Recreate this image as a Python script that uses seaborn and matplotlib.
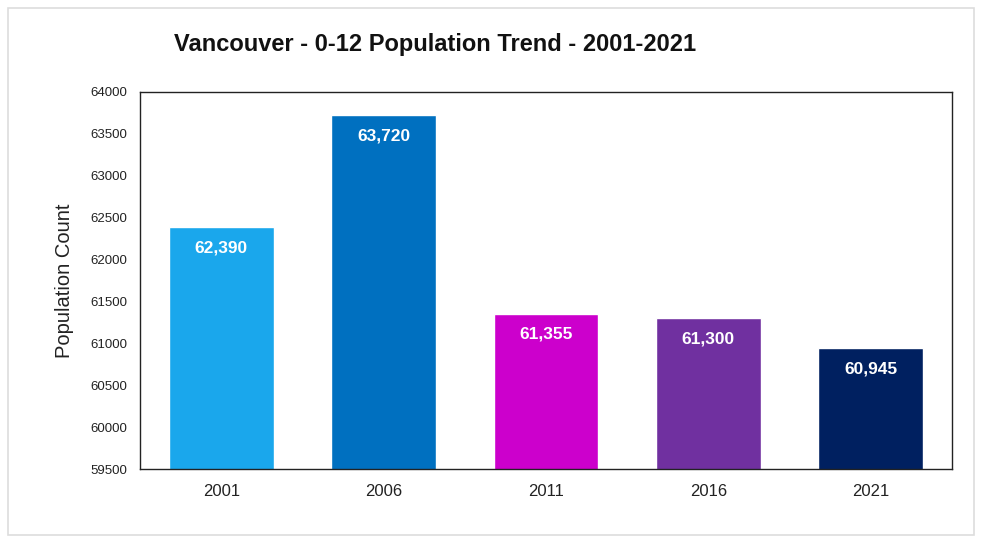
import matplotlib
matplotlib.use("Agg")
import matplotlib.pyplot as plt
import matplotlib.patches as mpatches
import seaborn as sns
import pandas as pd

# Census years and 0-12 population counts for Vancouver
years = ["2001", "2006", "2011", "2016", "2021"]
population = [62390, 63720, 61355, 61300, 60945]
bar_colors = ["#1AA7EC", "#0070C0", "#CC00CC", "#7030A0", "#002060"]
y_ticks = [59500, 60000, 60500, 61000, 61500, 62000, 62500, 63000, 63500, 64000]

sns.set_theme(style="white")
plt.rcParams["font.family"] = ["Liberation Sans", "DejaVu Sans"]

df = pd.DataFrame({"year": years, "population": population})

fig = plt.figure(figsize=(9.82, 5.41), dpi=100)
ax = fig.add_axes([140 / 982, 1 - 469 / 541, 812 / 982, 377 / 541])

sns.barplot(data=df, x="year", y="population", hue="year",
            palette=bar_colors, legend=False, width=0.645,
            saturation=1, ax=ax)

ax.set_ylim(y_ticks[0], y_ticks[-1])
ax.set_xlim(-0.5, 4.5)
ax.set_yticks(y_ticks)
ax.set_yticklabels([str(t) for t in y_ticks], fontsize=9.5)
ax.tick_params(axis="x", labelsize=12, length=0, pad=11, colors="#222222")
ax.tick_params(axis="y", length=0, pad=9, colors="#222222")
ax.set_xlabel("")
ax.set_ylabel("Population Count", fontsize=14.5, labelpad=12, color="#222222")

for spine in ax.spines.values():
    spine.set_visible(True)
    spine.set_color("#222222")
    spine.set_linewidth(1.0)

# value labels inside the top of each bar
for patch, val in zip(ax.patches, population):
    ax.annotate(f"{val:,}", (patch.get_x() + patch.get_width() / 2, val),
                xytext=(0, -15), textcoords="offset points",
                ha="center", va="center", color="white",
                fontsize=12.5, fontweight="bold")

fig.text(435 / 982, 1 - 45 / 541, "Vancouver - 0-12 Population Trend - 2001-2021",
         ha="center", va="center", fontsize=17, fontweight="bold", color="#111111")

# thin grey frame around the chart area
fig.patches.append(mpatches.Rectangle((8 / 982, 6 / 541), 966 / 982, 527 / 541,
                                      transform=fig.transFigure, fill=False,
                                      edgecolor="#DDDDDD", linewidth=1.2))

fig.savefig("out.png", dpi=100)
